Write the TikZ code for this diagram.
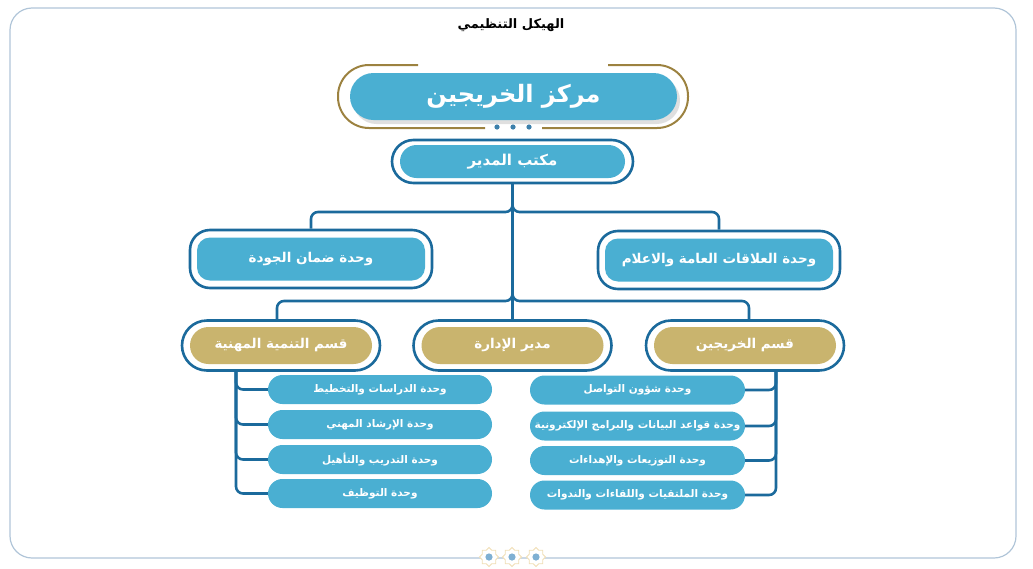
\documentclass[tikz,border=0pt]{standalone}
\usepackage{fontspec}
\newfontfamily\arabicfont[Script=Arabic]{DejaVu Sans}
\TeXXeTstate=1
\usetikzlibrary{shapes.misc,shadows}
\definecolor{capblue}{RGB}{74,175,210}
\definecolor{linkblue}{RGB}{27,106,156}
\definecolor{goldfill}{RGB}{201,180,110}
\definecolor{goldline}{RGB}{156,130,64}
\definecolor{frameblue}{RGB}{176,197,216}
\definecolor{starcream}{RGB}{240,222,180}
\definecolor{stardot}{RGB}{127,176,211}
\newcommand{\artext}[1]{\beginR #1\endR}
\tikzset{
  link/.style={draw=linkblue, line width=2.6pt, rounded corners=7pt},
  outercap/.style={rounded rectangle, draw=linkblue, line width=2.6pt, fill=white, inner sep=0pt},
  outerbox/.style={rectangle, rounded corners=20pt, draw=linkblue, line width=2.6pt, fill=white, inner sep=0pt},
  innercap/.style={rounded rectangle, fill=#1, text=white, inner sep=0pt, font=\arabicfont\bfseries},
  innerbox/.style={rectangle, rounded corners=13pt, fill=capblue, text=white, inner sep=0pt, font=\arabicfont\bfseries},
  unitpill/.style={rounded rectangle, fill=capblue, text=white, inner sep=0pt, minimum height=29pt,
    font=\arabicfont\bfseries\fontsize{10.5}{12}\selectfont}
}
\begin{document}
\begin{tikzpicture}[x=1pt,y=-1pt]
  \useasboundingbox (0,0) rectangle (1033,568);

  % Frame round the page
  \draw[frameblue, line width=1.2pt, rounded corners=22pt] (10,8) rectangle (1016,558);
  \foreach \sx in {489,512,536}{
    \draw[starcream, fill=white, line width=0.9pt] (\sx,557) +(0:9.5)
      \foreach \a in {0,45,...,315}{ -- +(\a:9.5) -- +(\a+22.5:7.3)} -- cycle;
    \fill[stardot] (\sx,557) circle (3.6);
  }

  % Title
  \node (title) at (511,25) {\arabicfont\bfseries\fontsize{13}{16}\selectfont\artext{الهيكل التنظيمي}};

  % Centre box with gold frame
  \draw[goldline, line width=2pt, rounded corners=31pt] (418,65) -- (338,65) -- (338,128) -- (485,128);
  \draw[goldline, line width=2pt, rounded corners=31pt] (542,128) -- (688,128) -- (688,65) -- (608,65);
  \foreach \dx in {497,513,529}
    \fill[linkblue!85] (\dx,127) circle (2.6);
  \node[innercap=capblue, minimum width=327pt, minimum height=47pt,
        drop shadow={shadow xshift=3pt, shadow yshift=-4pt, fill=black!25},
        font=\arabicfont\bfseries\fontsize{24}{28}\selectfont] (center) at (513.5,96.5) {\artext{مركز الخريجين}};

  % Director office
  \node[outercap, minimum width=241pt, minimum height=43pt] (office) at (512.5,161.5) {};
  \node[innercap=capblue, minimum width=225pt, minimum height=33pt, font=\arabicfont\bfseries\fontsize{15}{18}\selectfont]
    (officein) at (office.center) {\artext{مكتب المدير}};

  % Units under the office
  \node[outerbox, minimum width=242pt, minimum height=58pt] (quality) at (311,259) {};
  \node[innerbox, minimum width=228pt, minimum height=43pt, font=\arabicfont\bfseries\fontsize{13.5}{16}\selectfont]
    (qualityin) at (quality.center) {\artext{وحدة ضمان الجودة}};
  \node[outerbox, minimum width=242pt, minimum height=58pt] (media) at (719,260) {};
  \node[innerbox, minimum width=228pt, minimum height=43pt, font=\arabicfont\bfseries\fontsize{13.5}{16}\selectfont]
    (mediain) at (media.center) {\artext{وحدة العلاقات العامة والاعلام}};

  % Departments
  \node[outercap, minimum width=198pt, minimum height=50pt] (careers) at (281,345.5) {};
  \node[innercap=goldfill, minimum width=182pt, minimum height=37pt, font=\arabicfont\bfseries\fontsize{13.5}{16}\selectfont]
    (careersin) at (careers.center) {\artext{قسم التنمية المهنية}};
  \node[outercap, minimum width=198pt, minimum height=50pt] (admin) at (512.5,345.5) {};
  \node[innercap=goldfill, minimum width=182pt, minimum height=37pt, font=\arabicfont\bfseries\fontsize{13.5}{16}\selectfont]
    (adminin) at (admin.center) {\artext{مدير الإدارة}};
  \node[outercap, minimum width=198pt, minimum height=50pt] (grads) at (745,345.5) {};
  \node[innercap=goldfill, minimum width=182pt, minimum height=37pt, font=\arabicfont\bfseries\fontsize{13.5}{16}\selectfont]
    (gradsin) at (grads.center) {\artext{قسم الخريجين}};

  % Units of the career department
  \node[unitpill, minimum width=224pt] (left1) at (380,389.5) {\artext{وحدة الدراسات والتخطيط}};
  \node[unitpill, minimum width=224pt] (left2) at (380,424.5) {\artext{وحدة الإرشاد المهني}};
  \node[unitpill, minimum width=224pt] (left3) at (380,459.5) {\artext{وحدة التدريب والتأهيل}};
  \node[unitpill, minimum width=224pt] (left4) at (380,493.5) {\artext{وحدة التوظيف}};

  % Units of the graduates department
  \node[unitpill, minimum width=215pt] (right1) at (637.5,390) {\artext{وحدة شؤون التواصل}};
  \node[unitpill, minimum width=215pt] (right2) at (637.5,426) {\artext{وحدة قواعد البيانات والبرامج الإلكترونية}};
  \node[unitpill, minimum width=215pt] (right3) at (637.5,460.5) {\artext{وحدة التوزيعات والإهداءات}};
  \node[unitpill, minimum width=215pt] (right4) at (637.5,495) {\artext{وحدة الملتقيات واللقاءات والندوات}};

  % Connectors
  \coordinate (hubtop) at (512.5,212);
  \coordinate (hubmid) at (512.5,301);
  \draw[link] (office.south) -- (admin.north);
  \draw[link] (office.south) -- (hubtop) -| (quality.north);
  \draw[link] (office.south) -- (hubtop) -| (media.north);
  \draw[link] (hubtop) -- (hubmid) -| ([xshift=-4pt]careers.north);
  \draw[link] (hubtop) -- (hubmid) -| ([xshift=4pt]grads.north);
  \foreach \k in {1,...,4}{
    \draw[link] ([xshift=-45pt]careers.south) |- (left\k.west);
    \draw[link] ([xshift=31pt]grads.south) |- (right\k.east);
  }
\end{tikzpicture}
\end{document}
